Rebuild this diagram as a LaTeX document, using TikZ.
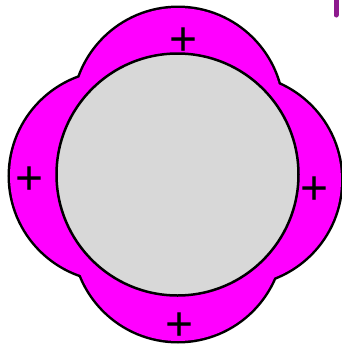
\documentclass[tikz,border=0pt]{standalone}
\usepackage{fontspec}
\setmainfont{Liberation Sans}
\definecolor{lobe}{RGB}{255,0,255}
\definecolor{core}{RGB}{216,216,216}
\definecolor{ink}{RGB}{142,26,142}
\begin{document}
\begin{tikzpicture}[x=1pt,y=-1pt,
  lobeline/.style={draw=black,line width=5pt,fill=lobe},
  lobefill/.style={fill=lobe},
  corecircle/.style={draw=black,line width=2.5pt,fill=core},
  charge/.style={inner sep=0pt,text height=0.62em,text depth=0pt,anchor=base,font=\fontsize{48}{48}\selectfont}]
\useasboundingbox (0,0) rectangle (342,346);
% lobes: outline of the union
\foreach \cx/\cy in {178/112.6, 114.6/176, 236.4/180, 178/236.4}
  \path[lobeline] (\cx,\cy) circle[radius=104.6];
\foreach \cx/\cy in {178/112.6, 114.6/176, 236.4/180, 178/236.4}
  \path[lobefill] (\cx,\cy) circle[radius=104.6];
% central circle
\path[corecircle] (177.5,174.5) circle[radius=121];
% charges
\node[charge] (ptop) at (184,38+17) {+};
\node[charge] (pleft) at (30,177+17) {+};
\node[charge] (pright) at (315,187+17) {+};
\node[charge] (pbottom) at (180,323+17) {+};
% purple stroke at top right
\coordinate (s1) at (336,-3);
\coordinate (s2) at (336,15);
\draw[ink,line width=5pt,line cap=round] (s1) -- (s2);
\end{tikzpicture}
\end{document}
